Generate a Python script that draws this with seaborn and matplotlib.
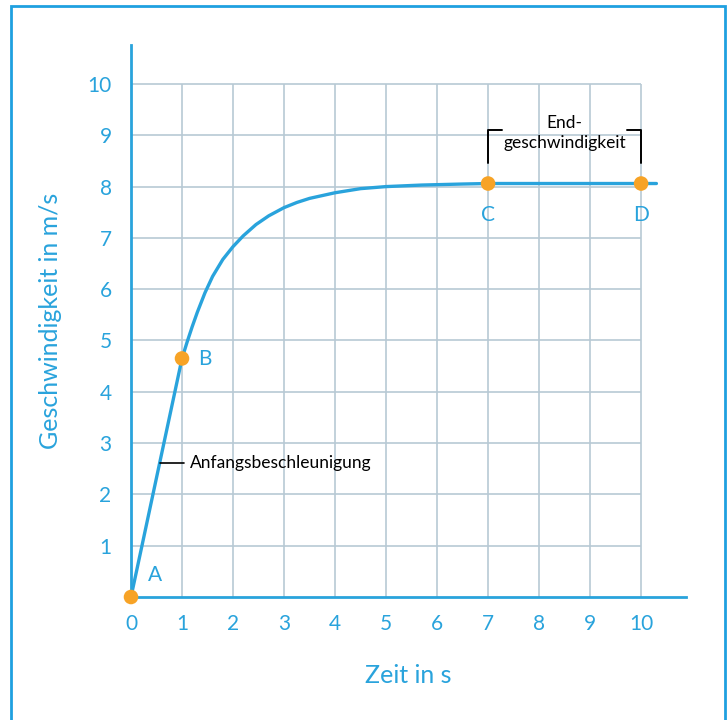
import numpy as np
import pandas as pd
import matplotlib.pyplot as plt
import seaborn as sns
from matplotlib.patches import Rectangle


zeit = [0, 1, 1.1, 1.2, 1.3, 1.45, 1.6, 1.8, 2.0, 2.2, 2.45, 2.7, 3.0, 3.25,
        3.5, 4, 4.5, 5, 5.7, 6.5, 7, 8, 9, 10, 10.3]
geschw = [0, 4.65, 4.97, 5.27, 5.55, 5.93, 6.25, 6.58, 6.83, 7.04, 7.26, 7.43,
          7.59, 7.69, 7.77, 7.88, 7.96, 8.0, 8.03, 8.05, 8.06, 8.06, 8.06,
          8.06, 8.06]

punkt_namen = ["A", "B", "C", "D"]
punkt_zeit = [0, 1, 7, 10]
punkt_geschw = [0, 4.65, 8.06, 8.06]

x_ticks = list(range(0, 11))
y_ticks = list(range(1, 11))

blau = '#29a3dc'
gitter = '#b7c9d4'
orange = '#f7a326'

sns.set_style("white")
plt.rcParams['font.family'] = ['Lato', 'DejaVu Sans']

fig = plt.figure(figsize=(7.27, 7.2), dpi=100)
ax = fig.add_axes([131 / 727, 1 - 597 / 720, 555 / 727, 552 / 720])

# grid box 0..10 x 0..10
ax.vlines(x_ticks[1:], 0, 10, color=gitter, lw=1.2, zorder=1)
ax.hlines(y_ticks, 0, 10, color=gitter, lw=1.2, zorder=1)

df = pd.DataFrame({"t": zeit, "v": geschw})
sns.lineplot(data=df, x="t", y="v", ax=ax, color=blau, lw=2.4, zorder=3)

pts = pd.DataFrame({"t": punkt_zeit, "v": punkt_geschw})
sns.scatterplot(data=pts, x="t", y="v", ax=ax, color=orange, s=110,
                edgecolor='none', zorder=5, clip_on=False)

# point names
ax.text(0.48, 0.42, "A", color=blau, fontsize=15, ha='center', va='center')
ax.text(1.45, 4.64, "B", color=blau, fontsize=15, ha='center', va='center')
ax.text(7, 7.45, "C", color=blau, fontsize=15, ha='center', va='center')
ax.text(10, 7.45, "D", color=blau, fontsize=15, ha='center', va='center')

# annotations
ax.plot([0.57, 1.04], [2.61, 2.61], color='black', lw=1.2, zorder=4)
ax.text(1.15, 2.61, "Anfangsbeschleunigung", fontsize=12.5, color='black',
        ha='left', va='center')

ax.plot([7.0, 7.0, 7.27], [8.46, 9.1, 9.1], color='black', lw=1.4, zorder=4)
ax.plot([9.73, 10.0, 10.0], [9.1, 9.1, 8.46], color='black', lw=1.4, zorder=4)
ax.text(8.5, 9.04, "End-\ngeschwindigkeit", fontsize=12.5, color='black',
        ha='center', va='center', linespacing=1.3)

ax.set_xlim(0, 10.88)
ax.set_ylim(0, 10.76)
ax.set_xticks(x_ticks)
ax.set_yticks(y_ticks)
ax.tick_params(axis='x', direction='out', length=7, width=2, color=blau,
               labelcolor=blau, labelsize=15, pad=5)
ax.tick_params(axis='y', length=0, labelcolor=blau, labelsize=15, pad=14)
ax.set_xlabel("Zeit in s", color=blau, fontsize=18, labelpad=22)
ax.set_ylabel("Geschwindigkeit in m/s", color=blau, fontsize=18, labelpad=18)

sns.despine(ax=ax)
for side in ['left', 'bottom']:
    ax.spines[side].set_color(blau)
    ax.spines[side].set_linewidth(2)
ax.grid(False)

# frame around the picture
fig.patches.append(Rectangle((11 / 727, -0.05), 714 / 727, 1.05 - 6 / 720,
                             transform=fig.transFigure, fill=False,
                             edgecolor='#1fa0e0', lw=2))

plt.savefig("out.png", dpi=100)
plt.close()
